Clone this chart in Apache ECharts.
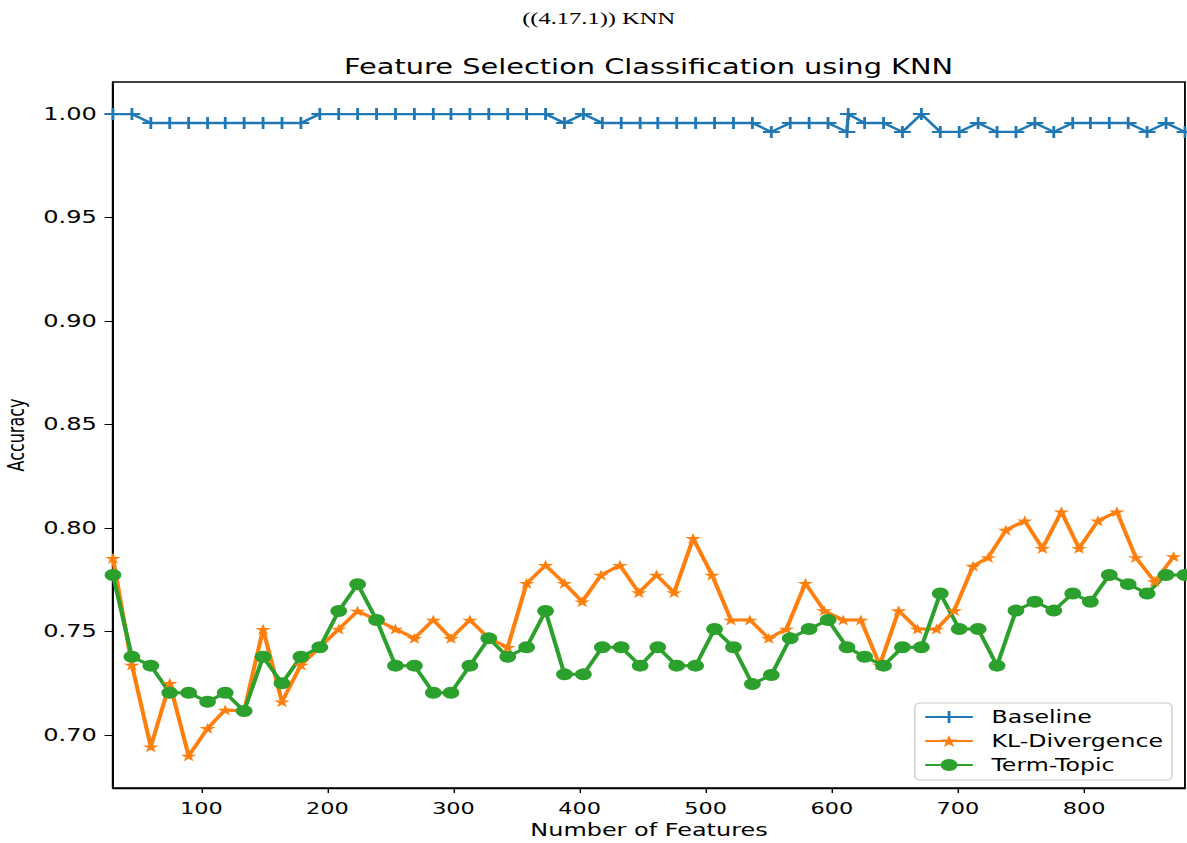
<!DOCTYPE html>
<html><head><meta charset="utf-8">
<script src="https://cdn.jsdelivr.net/npm/echarts@6/dist/echarts.min.js"></script>
<style>
html,body{margin:0;padding:0;background:#fff;overflow:hidden;}
#wrap{width:1187px;height:843px;overflow:hidden;position:relative;background:#fff;}
#chart{width:848px;height:843px;transform:scaleX(1.4);transform-origin:0 0;}
</style></head><body><div id="wrap"><div id="chart"></div></div>
<script>
// ---- data ----
const xTermTopic = [30,45,60,75,90,105,119,134,149,164,179,194,209,224,239,254,269,284,298,313,328,343,358,373,388,403,418,433,448,462,477,492,507,522,537,552,567,582,597,612,626,641,656,671,686,701,716,731,746,761,776,791,805,820,835,850,865,880];
const xKL = [30,45,60,75,90,105,119,134,149,164,179,194,209,224,239,254,269,284,298,313,328,343,358,373,388,402,417,432,447,461,475,490,505,520,535,550,564,579,594,609,623,638,653,668,683,697,712,724,738,753,767,782,796,811,826,841,856,871];
const xBaseline = [30,45,60,75,90,105,119,134,149,164,179,194,209,224,239,254,269,284,298,313,328,343,358,373,388,403,418,433,448,462,477,492,507,522,537,552,567,582,597,612,613,626,641,656,671,686,701,716,731,746,761,776,791,805,820,835,850,865,880];
const baseline = [1.0,1.0,
  0.9957,0.9957,0.9957,0.9957,0.9957,0.9957,0.9957,0.9957,0.9957,
  1.0,1.0,1.0,1.0,1.0,1.0,1.0,1.0,1.0,1.0,1.0,1.0,1.0,
  0.9957,1.0,
  0.9957,0.9957,0.9957,0.9957,0.9957,0.9957,0.9957,0.9957,0.9957,
  0.9914,
  0.9957,0.9957,0.9957,
  0.9914,1.0,
  0.9957,0.9957,0.9914,1.0,0.9914,0.9914,0.9957,0.9914,0.9914,0.9957,0.9914,
  0.9957,0.9957,0.9957,0.9957,0.9914,0.9957,0.9914];
const klDivergence = [0.7854,0.7338,0.6943,0.7250,0.6899,0.7032,0.7121,0.7116,0.7511,0.7161,
  0.7338,0.7424,0.7512,0.7599,0.7556,0.7512,0.7467,0.7556,0.7467,0.7556,
  0.7467,0.7424,0.7733,0.7820,0.7733,0.7644,0.7773,0.7820,0.7688,0.7773,
  0.7688,0.7950,0.7773,0.7556,0.7556,0.7467,0.7512,0.7733,0.7601,0.7556,
  0.7556,0.7338,0.7601,0.7512,0.7512,0.7601,0.7816,0.7858,0.7990,0.8035,
  0.7902,0.8079,0.7902,0.8035,0.8079,0.7858,0.7741,0.7862];
const termTopic = [0.7773,0.7378,0.7335,0.7204,0.7204,0.7161,0.7204,0.7116,0.7378,0.7250,
  0.7378,0.7424,0.7599,0.7729,0.7556,0.7335,0.7335,0.7204,0.7204,0.7335,
  0.7467,0.7378,0.7424,0.7599,0.7293,0.7293,0.7424,0.7424,0.7335,0.7424,
  0.7335,0.7335,0.7512,0.7424,0.7246,0.7290,0.7467,0.7512,0.7556,0.7424,
  0.7378,0.7335,0.7424,0.7424,0.7684,0.7512,0.7512,0.7335,0.7601,0.7644,
  0.7601,0.7684,0.7644,0.7773,0.7729,0.7684,0.7773,0.7773];
const xTicks = [100,200,300,400,500,600,700,800];
const yTicks = [0.70,0.75,0.80,0.85,0.90,0.95,1.00];
const seriesNames = ['Baseline','KL-Divergence','Term-Topic'];
const colors = ['#1f77b4','#ff7f0e','#2ca02c'];

// ---- chart ----
const FONT = 'DejaVu Sans';
const plusPath = 'path://M5,0h2v12h-2z M0,5h12v2h-12z';
const starPath = 'path://M10,0L12.245,6.91L19.511,6.91L13.633,11.18L15.878,18.09L10,13.82L4.122,18.09L6.367,11.18L0.489,6.91L7.755,6.91Z';
const zip = (xs, ys) => xs.map((x, i) => [x, ys[i]]);

const chart = echarts.init(document.getElementById('chart'), null, {renderer: 'svg'});
chart.setOption({
  animation: false,
  backgroundColor: '#fff',
  title: [
    {text: 'Feature Selection Classification using KNN', left: 245.8, top: 57, padding: 0,
     textStyle: {fontFamily: FONT, fontSize: 20.6, fontWeight: 'normal', color: '#000'}},
    {text: '((4.17.1)) KNN', left: 373, top: 9, padding: 0,
     textStyle: {fontFamily: 'Liberation Serif', fontSize: 17.5, fontWeight: 'normal', color: '#000'}}
  ],
  grid: {left: 80.7, top: 82, width: 765.7, height: 706, show: true,
         borderColor: '#000', borderWidth: 1.3, backgroundColor: 'transparent',
         containLabel: false, outerBoundsMode: 'none'},
  legend: {
    orient: 'vertical', right: 10.9, bottom: 63,
    data: seriesNames,
    itemWidth: 34, itemHeight: 15, itemGap: 7,
    padding: [5.5, 6.4, 6.5, 6.4],
    backgroundColor: 'rgba(255,255,255,0.8)', borderColor: '#cccccc', borderWidth: 1, borderRadius: 4,
    textStyle: {fontFamily: FONT, fontSize: 16.9, color: '#000', padding: [0, 0, 0, 8.3]}
  },
  xAxis: {
    type: 'value', min: 30, max: 880,
    name: 'Number of Features', nameLocation: 'middle', nameGap: 32,
    nameTextStyle: {fontFamily: FONT, fontSize: 17.1, color: '#000'},
    axisLine: {show: true, lineStyle: {color: '#000', width: 1.3}},
    axisTick: {show: true, length: 5, customValues: xTicks, lineStyle: {color: '#000', width: 1}},
    axisLabel: {show: true, customValues: xTicks, margin: 13, fontFamily: FONT, fontSize: 16, color: '#000'},
    splitLine: {show: false}
  },
  yAxis: {
    type: 'value', min: 0.6744, max: 1.0155,
    name: 'Accuracy', nameLocation: 'middle', nameGap: 47.5, nameRotate: 90,
    nameTextStyle: {fontFamily: FONT, fontSize: 16, color: '#000'},
    axisLine: {show: true, lineStyle: {color: '#000', width: 1.3}},
    axisTick: {show: true, length: 6, customValues: yTicks, lineStyle: {color: '#000', width: 1}},
    axisLabel: {show: true, customValues: yTicks, margin: 11.5, fontFamily: FONT, fontSize: 17.2, color: '#000',
                formatter: v => Number(v).toFixed(2)},
    splitLine: {show: false}
  },
  series: [
    {type: 'line', name: seriesNames[0], data: zip(xBaseline, baseline),
     symbol: plusPath, symbolSize: [12, 12], showAllSymbol: true,
     lineStyle: {width: 2.3, color: colors[0]}, itemStyle: {color: colors[0]}, color: colors[0],
     emphasis: {disabled: true}},
    {type: 'line', name: seriesNames[1], data: zip(xKL, klDivergence),
     symbol: starPath, symbolSize: [11.4, 10.9], showAllSymbol: true,
     lineStyle: {width: 3, color: colors[1]}, itemStyle: {color: colors[1]}, color: colors[1],
     emphasis: {disabled: true}},
    {type: 'line', name: seriesNames[2], data: zip(xTermTopic, termTopic),
     symbol: 'circle', symbolSize: 12, showAllSymbol: true,
     lineStyle: {width: 3, color: colors[2]}, itemStyle: {color: colors[2]}, color: colors[2],
     emphasis: {disabled: true}}
  ]
});
</script>
</body></html>
